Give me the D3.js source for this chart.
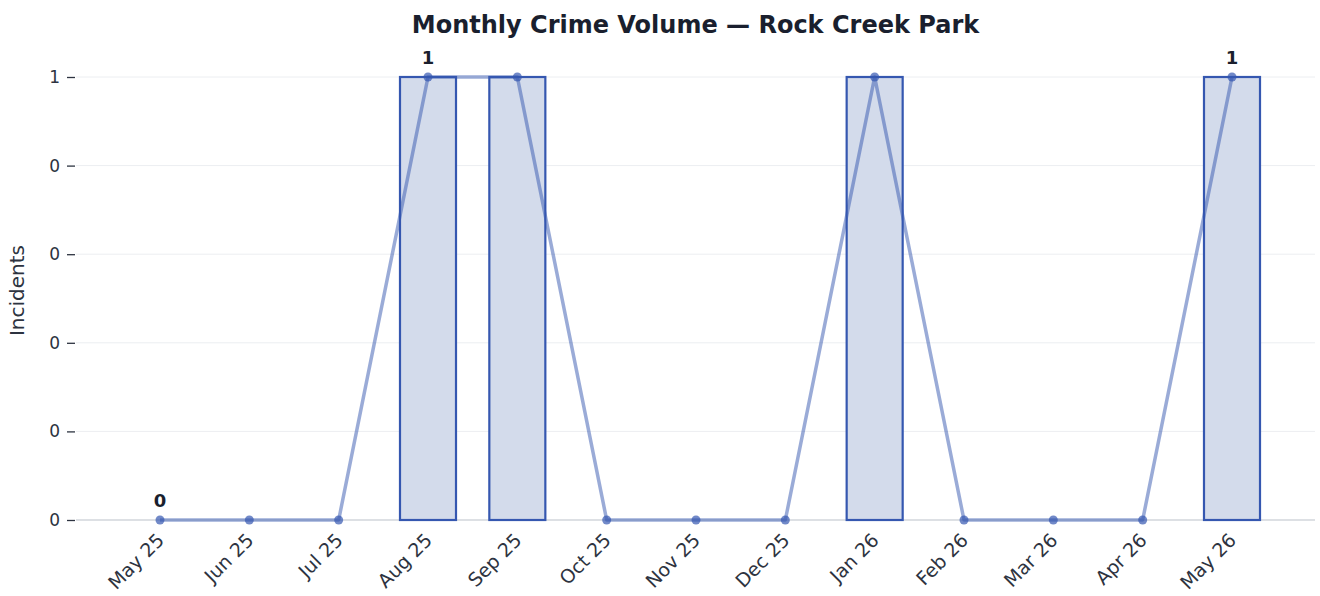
<!DOCTYPE html>
<html>
<head>
<meta charset="utf-8">
<script src="https://cdn.jsdelivr.net/npm/d3@7"></script>
<style>
  body { margin: 0; background: #fff; }
  svg { font-family: 'DejaVu Sans', sans-serif; }
</style>
</head>
<body>
<div id="chart"></div>
<script>
const months = ['May 25', 'Jun 25', 'Jul 25', 'Aug 25', 'Sep 25', 'Oct 25', 'Nov 25', 'Dec 25', 'Jan 26', 'Feb 26', 'Mar 26', 'Apr 26', 'May 26']
const incidents = [0, 0, 0, 1, 1, 0, 0, 0, 1, 0, 0, 0, 1]
const yTicks = [0, 0.2, 0.4, 0.6, 0.8, 1]
const yTickLabels = ['0', '0', '0', '0', '0', '1']
const labelled = [0, 3, 12]

const width = 1320, height = 596
const plot = { left: 76, right: 1315, top: 77, bottom: 520 }

const svg = d3.select('#chart')
    .append('svg')
    .attr('width', width)
    .attr('height', height)

const x = d3.scalePoint()
    .domain(months)
    .range([160, 1232])
const barW = x.step() * 0.627

const y = d3.scaleLinear()
    .domain([0, 1])
    .range([plot.bottom, plot.top])

// grid
svg.append('g')
    .selectAll('line')
    .data(yTicks)
    .join('line')
    .attr('x1', plot.left).attr('x2', plot.right)
    .attr('y1', d => y(d)).attr('y2', d => y(d))
    .attr('stroke', '#eceef1')
    .attr('stroke-width', 1)

// y axis ticks
const yAxis = svg.append('g')
    .attr('transform', `translate(${plot.left - 1}, 0)`)
    .call(d3.axisLeft(y).tickValues(yTicks).tickFormat((d, i) => yTickLabels[i]).tickSize(8).tickPadding(7))
yAxis.attr('font-family', null).attr('font-size', null)
yAxis.select('.domain').remove()
yAxis.selectAll('.tick line').attr('stroke', '#2d3340').attr('stroke-width', 1.3)
yAxis.selectAll('.tick text').attr('fill', '#2d3340').attr('font-size', 17)

// baseline
svg.append('line')
    .attr('x1', plot.left).attr('x2', plot.right)
    .attr('y1', y(0)).attr('y2', y(0))
    .attr('stroke', '#d5d8de')
    .attr('stroke-width', 1.5)

// bars
svg.append('g')
    .selectAll('rect')
    .data(incidents)
    .join('rect')
    .attr('x', (d, i) => x(months[i]) - barW / 2)
    .attr('width', barW)
    .attr('y', d => y(d))
    .attr('height', d => y(0) - y(d))
    .attr('fill', '#d3dbeb')
    .attr('stroke', '#3557b0')
    .attr('stroke-width', 2.2)

// line
svg.append('path')
    .datum(incidents)
    .attr('fill', 'none')
    .attr('stroke', '#3557b0')
    .attr('stroke-opacity', 0.5)
    .attr('stroke-width', 3.5)
    .attr('stroke-linejoin', 'round')
    .attr('d', d3.line()
        .x((d, i) => x(months[i]))
        .y(d => y(d)))

svg.append('g')
    .selectAll('circle')
    .data(incidents)
    .join('circle')
    .attr('cx', (d, i) => x(months[i]))
    .attr('cy', d => y(d))
    .attr('r', 4.5)
    .attr('fill', '#3557b0')
    .attr('fill-opacity', 0.7)

// value labels
svg.append('g')
    .selectAll('text')
    .data(labelled)
    .join('text')
    .attr('x', i => x(months[i]))
    .attr('y', i => y(incidents[i]) - 13)
    .attr('text-anchor', 'middle')
    .attr('font-weight', 'bold')
    .attr('font-size', 18)
    .attr('fill', '#1a1f2e')
    .text(i => incidents[i])

// x labels
svg.append('g')
    .selectAll('text')
    .data(months)
    .join('text')
    .attr('transform', d => `translate(${x(d) - 4}, ${plot.bottom + 12}) rotate(-45)`)
    .attr('text-anchor', 'end')
    .attr('dy', '0.7em')
    .attr('font-size', 19)
    .attr('fill', '#2d3340')
    .text(d => d)

// y label
svg.append('text')
    .attr('transform', `translate(24, ${(plot.top + plot.bottom) / 2 - 8}) rotate(-90)`)
    .attr('text-anchor', 'middle')
    .attr('font-size', 20)
    .attr('fill', '#2d3340')
    .text('Incidents')

// title
svg.append('text')
    .attr('x', (plot.left + plot.right) / 2)
    .attr('y', 33)
    .attr('text-anchor', 'middle')
    .attr('font-weight', 'bold')
    .attr('font-size', 24)
    .attr('fill', '#1a1f2e')
    .text('Monthly Crime Volume — Rock Creek Park')
</script>
</body>
</html>
